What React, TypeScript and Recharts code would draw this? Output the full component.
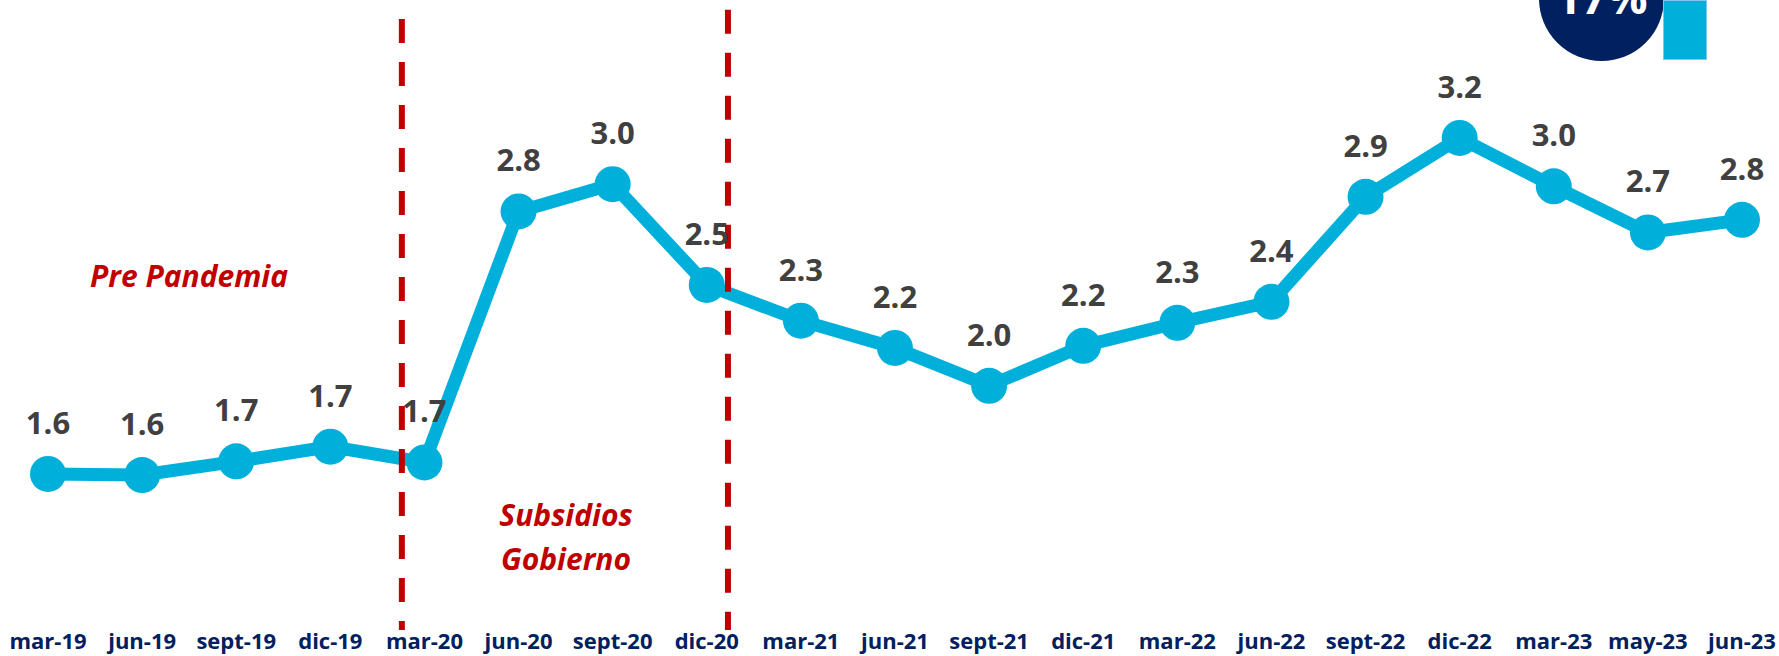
import React from 'react';
import {
  LabelList,
  Line,
  LineChart,
  ReferenceLine,
  XAxis,
  YAxis,
} from 'recharts';

const periods = [
  'mar-19', 'jun-19', 'sept-19', 'dic-19', 'mar-20', 'jun-20', 'sept-20',
  'dic-20', 'mar-21', 'jun-21', 'sept-21', 'dic-21', 'mar-22', 'jun-22',
  'sept-22', 'dic-22', 'mar-23', 'may-23', 'jun-23',
];

const ratio = [
  1.58, 1.575, 1.64, 1.71, 1.635, 2.83, 2.96, 2.48, 2.31, 2.18, 2.0, 2.19,
  2.3, 2.4, 2.9, 3.18, 2.95, 2.73, 2.79,
];

// labels as printed on the original chart
const ratioLabels = [
  '1.6', '1.6', '1.7', '1.7', '1.7', '2.8', '3.0', '2.5', '2.3', '2.2', '2.0',
  '2.2', '2.3', '2.4', '2.9', '3.2', '3.0', '2.7', '2.8',
];

// where the dashed dividers sit, in units of periods
const dividers = [
  { at: 3.76, top: 3.746 },
  { at: 7.225, top: 3.79 },
];

const badgeText = '17%';

const FONT = '"Open Sans", sans-serif';
const CYAN = '#00B0DA';
const NAVY = '#002060';
const RED = '#C00000';

const data = periods.map((period, idx) => ({
  period,
  idx,
  ratio: ratio[idx],
  label: ratioLabels[idx],
}));

const note: React.CSSProperties = {
  position: 'absolute',
  fontFamily: FONT,
  fontStyle: 'italic',
  fontWeight: 700,
  fontSize: 30,
  color: RED,
  textAlign: 'center',
  lineHeight: '44px',
  whiteSpace: 'nowrap',
};

const App = () => (
  <div
    style={{
      position: 'absolute',
      top: 0,
      left: 0,
      width: 1779,
      height: 656,
      overflow: 'hidden',
      background: '#fff',
    }}
  >
    <LineChart
      width={1779}
      height={656}
      data={data}
      margin={{ top: 0, right: 37, bottom: 0, left: 48 }}
    >
      <XAxis
        dataKey="period"
        height={26}
        axisLine={false}
        tickLine={false}
        tickSize={0}
        tickMargin={3}
        interval={0}
        tick={{ fill: NAVY, fontSize: 22, fontWeight: 700, fontFamily: FONT }}
      />
      <XAxis
        xAxisId="ref"
        dataKey="idx"
        type="number"
        domain={[0, periods.length - 1]}
        allowDataOverflow
        hide
      />
      <YAxis type="number" domain={[0.837, 3.837]} allowDataOverflow hide width={0} />
      <Line
        dataKey="ratio"
        stroke={CYAN}
        strokeWidth={13}
        dot={{ r: 18, fill: CYAN, stroke: 'none' }}
        activeDot={false}
        isAnimationActive={false}
      >
        <LabelList
          dataKey="label"
          position="top"
          offset={40}
          fill="#404040"
          style={{ fontFamily: FONT, fontWeight: 700, fontSize: 31 }}
        />
      </Line>
      {dividers.map((d) => (
        <ReferenceLine
          key={d.at}
          xAxisId="ref"
          segment={[
            { x: d.at, y: d.top },
            { x: d.at, y: 0.837 },
          ]}
          stroke={RED}
          strokeWidth={6}
          strokeDasharray="24 19"
          ifOverflow="visible"
        />
      ))}
    </LineChart>

    <div style={{ ...note, left: 89, top: 254, width: 200 }}>Pre Pandemia</div>
    <div style={{ ...note, left: 466, top: 493, width: 200 }}>
      Subsidios
      <br />
      Gobierno
    </div>

    <div
      style={{
        position: 'absolute',
        left: 1539,
        top: -64,
        width: 125,
        height: 125,
        borderRadius: '50%',
        background: NAVY,
      }}
    />
    <div
      style={{
        position: 'absolute',
        left: 1539,
        top: -33,
        width: 125,
        textAlign: 'center',
        fontFamily: FONT,
        fontWeight: 700,
        fontSize: 45,
        lineHeight: '60px',
        color: '#fff',
      }}
    >
      {badgeText}
    </div>
    <div
      style={{
        position: 'absolute',
        left: 1663,
        top: 0,
        width: 44,
        height: 60,
        background: CYAN,
        boxShadow: 'inset 0 0 0 1px #7fc8e8',
      }}
    />
  </div>
);

export default App;
